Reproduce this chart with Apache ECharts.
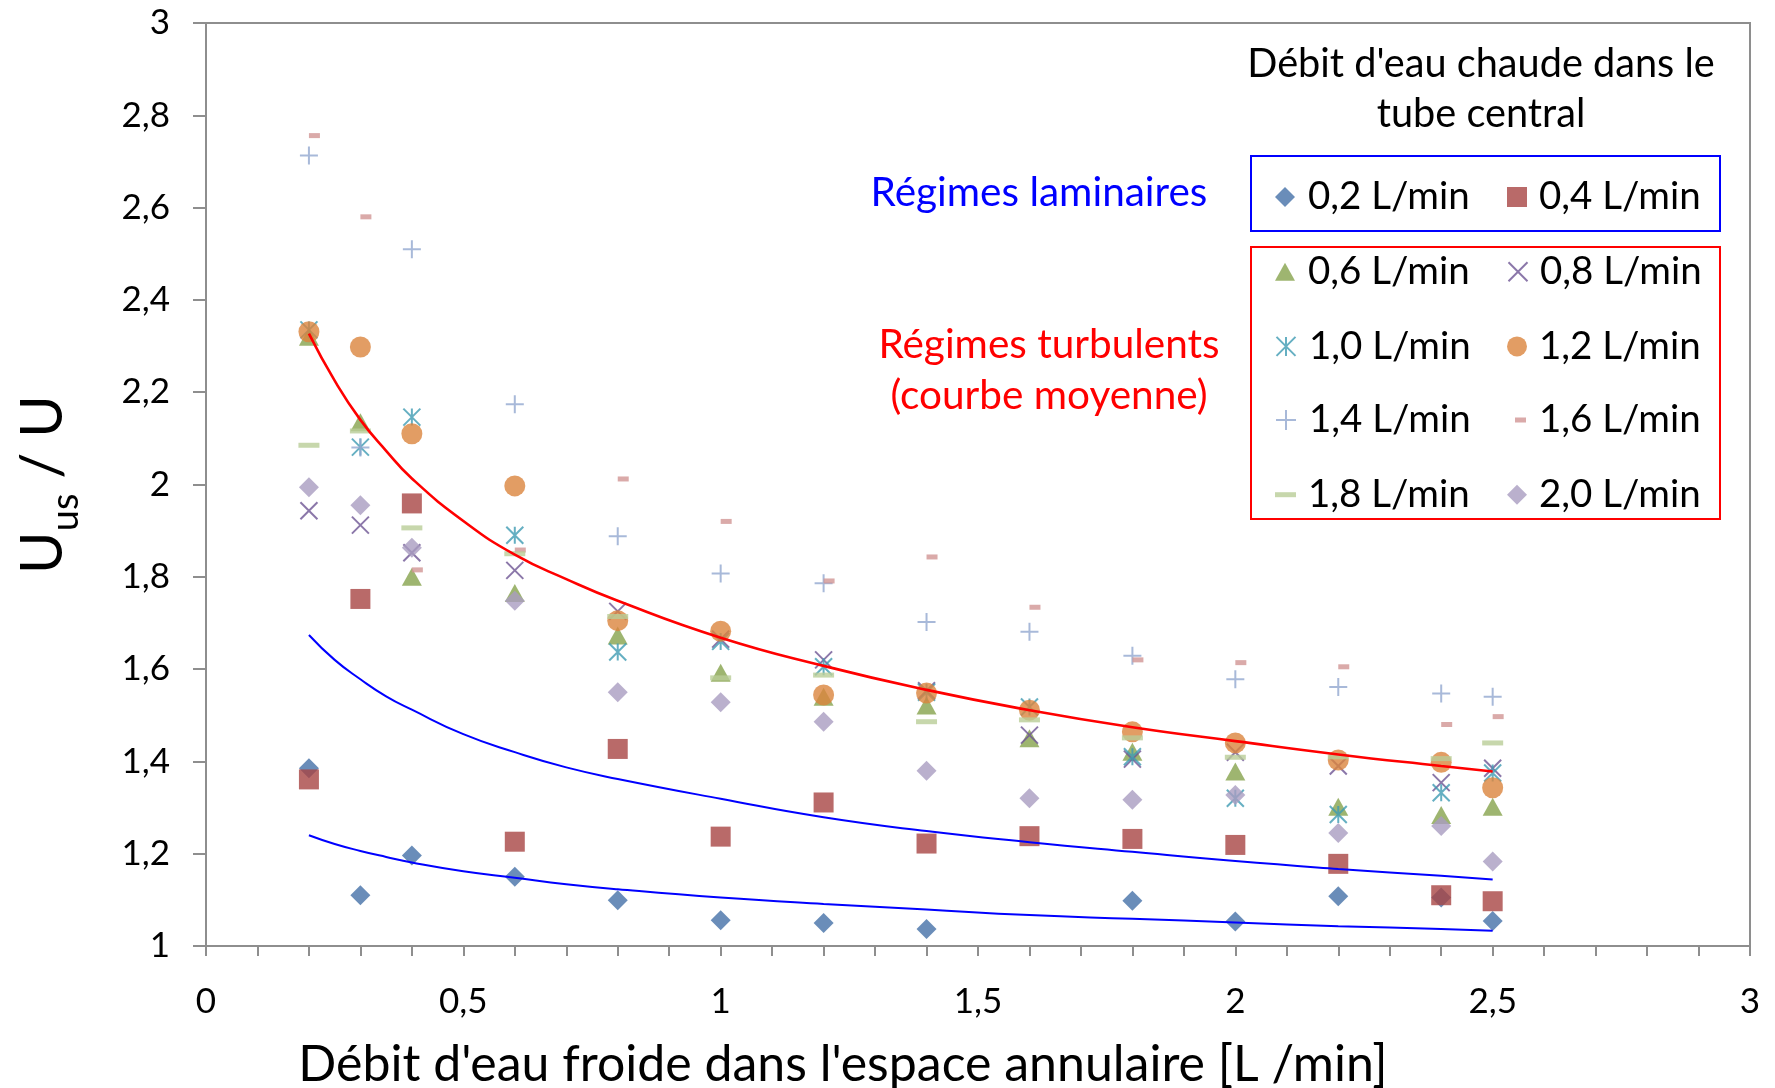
<!DOCTYPE html>
<html><head><meta charset="utf-8">
<script src="https://cdn.jsdelivr.net/npm/echarts@6/dist/echarts.min.js"></script>
<style>html,body{margin:0;padding:0;background:#fff}#c{width:1775px;height:1088px}</style>
</head><body><div id="c"></div>
<script>
// ---- data ----
const xVals = [0.2, 0.3, 0.4, 0.6, 0.8, 1.0, 1.2, 1.4, 1.6, 1.8, 2.0, 2.2, 2.4, 2.5];
const seriesNames = ['0,2 L/min','0,4 L/min','0,6 L/min','0,8 L/min','1,0 L/min','1,2 L/min','1,4 L/min','1,6 L/min','1,8 L/min','2,0 L/min'];
const s02 = [1.385, 1.110, 1.196, 1.150, 1.099, 1.056, 1.050, 1.037, null, 1.098, 1.053, 1.108, 1.105, 1.054];
const s04 = [1.361, 1.752, 1.959, 1.226, 1.427, 1.237, 1.311, 1.222, 1.238, 1.232, 1.219, 1.178, 1.110, 1.097];
const s06 = [2.320, 2.135, 1.800, 1.765, 1.673, 1.592, 1.540, 1.521, 1.450, 1.421, 1.378, 1.302, 1.284, 1.302];
const s08 = [1.943, 1.912, 1.852, 1.814, 1.725, 1.665, 1.620, 1.553, 1.457, 1.405, 1.420, 1.390, 1.354, 1.385];
const s10 = [2.335, 2.081, 2.146, 1.890, 1.637, 1.660, 1.605, 1.550, 1.518, 1.410, 1.320, 1.285, 1.332, 1.375];
const s12 = [2.331, 2.298, 2.110, 1.997, 1.705, 1.682, 1.544, 1.548, 1.511, 1.464, 1.440, 1.403, 1.398, 1.343];
const s14 = [2.713, 2.080, 2.510, 2.174, 1.888, 1.807, 1.786, 1.702, 1.681, 1.629, 1.578, 1.561, 1.547, 1.540];
const s16 = [2.756, 2.580, 1.815, 1.858, 2.012, 1.920, 1.791, 1.843, 1.734, 1.620, 1.614, 1.605, 1.480, 1.497];
const s18 = [2.085, 2.116, 1.906, 1.850, 1.714, 1.581, 1.587, 1.486, 1.490, 1.451, 1.409, 1.410, 1.406, 1.440];
const s20 = [1.994, 1.955, 1.863, 1.748, 1.550, 1.528, 1.486, 1.380, 1.320, 1.317, 1.327, 1.245, 1.260, 1.183];

// trend curves
const trendX    = [0.2, 0.25, 0.3, 0.35, 0.4, 0.5, 0.6, 0.7, 0.8, 1.0, 1.2, 1.4, 1.6, 1.8, 2.0, 2.2, 2.4, 2.5];
const redY      = [2.327, 2.225, 2.140, 2.073, 2.013, 1.921, 1.848, 1.795, 1.748, 1.668, 1.607, 1.555, 1.511, 1.474, 1.444, 1.415, 1.390, 1.378];
const blueUpY   = [1.674, 1.620, 1.578, 1.541, 1.512, 1.459, 1.420, 1.387, 1.362, 1.319, 1.279, 1.249, 1.225, 1.204, 1.184, 1.167, 1.152, 1.144];
const blueLowY  = [1.240, 1.221, 1.206, 1.193, 1.181, 1.162, 1.148, 1.134, 1.123, 1.105, 1.091, 1.079, 1.067, 1.059, 1.051, 1.043, 1.037, 1.033];

const xTicks = [0, 0.5, 1, 1.5, 2, 2.5, 3];
const yTicks = [1, 1.2, 1.4, 1.6, 1.8, 2, 2.2, 2.4, 2.6, 2.8, 3];

// ---- styling ----
const FONT = 'Lato';
const AX = '#8E8E8E';
const fmt = v => String(Math.round(v * 10) / 10).replace('.', ',');
const P_X = 'path://M0,0 L10,10 M10,0 L0,10';
const P_AST = 'path://M0,0 L10,10 M10,0 L0,10 M5,0 L5,10';
const P_PLUS = 'path://M5,0 L5,10 M0,5 L10,5';

const styles = [
  {symbol:'diamond', size:20, color:'#4571A8'},
  {symbol:'rect', size:20, color:'#A84543'},
  {symbol:'triangle', size:[20,18], color:'#86A24C'},
  {symbol:P_X, size:17, color:'#6E5593', stroke:true},
  {symbol:P_AST, size:17, color:'#3E9BB3', stroke:true},
  {symbol:'circle', size:21, color:'#DB843D'},
  {symbol:P_PLUS, size:18, color:'#92A8CF', stroke:true},
  {symbol:'rect', size:[11,5], color:'#D19594', offset:[5.5,0]},
  {symbol:'rect', size:[21,5], color:'#B9CD97'},
  {symbol:'diamond', size:20, color:'#A99CC0'}
];
const allVals = [s02, s04, s06, s08, s10, s12, s14, s16, s18, s20];

const series = allVals.map((vals, i) => {
  const st = styles[i];
  return {
    type: 'scatter', name: seriesNames[i],
    data: xVals.map((x, j) => vals[j] == null ? null : [x, vals[j]]).filter(d => d),
    symbol: st.symbol, symbolSize: st.size, symbolOffset: st.offset || [0,0],
    itemStyle: st.stroke ? {color:'transparent', borderColor: st.color, borderWidth: 2} : {color: st.color},
    emphasis: {disabled: true}, z: 2
  };
});
const trend = (ys, color, width) => ({
  type: 'line', data: trendX.map((x, j) => [x, ys[j]]), symbol: 'none', smooth: 0.5,
  lineStyle: {color, width}, silent: true, z: 4
});
series.push(trend(redY, '#FF0000', 2.6), trend(blueUpY, '#0000FF', 2), trend(blueLowY, '#0000FF', 2));

// legend items, one legend per item
const rowY = [197, 271.7, 346.4, 420, 494.7];
const legends = seriesNames.map((name, i) => {
  const st = styles[i];
  const col = i % 2, row = Math.floor(i / 2);
  let w = 20, h = 20, icon = st.symbol;
  if (i === 2) { h = 18; }
  if (i === 3 || i === 4) { w = 19; h = 19; }
  if (i === 7) { w = 11; h = 5; }
  if (i === 8) { w = 21; h = 5; }
  let left = col === 0 ? 1285 - w / 2 : 1517 - w / 2;
  if (i === 7) left = 1515;
  if (i === 8) left = 1275;
  const textLeft = col === 0 ? 1308 : 1539;
  return {
    data: [{name, icon, itemStyle: st.stroke ? {color:'transparent', borderColor: st.color, borderWidth: 2} : {color: st.color, borderWidth: 0}}],
    left, top: rowY[row] - 20, itemWidth: w, itemHeight: h, padding: 0, selectedMode: false,
    textStyle: {fontFamily: FONT, fontSize: 38.5, color: '#000', lineHeight: 40, padding: [0, 0, 0, textLeft - (left + w + 5)]}
  };
});

const option = {
  animation: false,
  backgroundColor: '#fff',
  grid: {left: 206, right: 25, top: 23, bottom: 142, show: true, borderColor: AX, borderWidth: 2},
  xAxis: {
    type: 'value', min: xTicks[0], max: xTicks[xTicks.length - 1], interval: 0.5,
    axisLine: {lineStyle: {color: AX, width: 2}},
    axisTick: {show: true, length: 10, lineStyle: {color: AX, width: 2}},
    minorTick: {show: true, splitNumber: 5, length: 10, lineStyle: {color: AX, width: 2}},
    splitLine: {show: false},
    axisLabel: {formatter: fmt, fontFamily: FONT, fontSize: 35, color: '#000', margin: 38}
  },
  yAxis: {
    type: 'value', min: yTicks[0], max: yTicks[yTicks.length - 1], interval: 0.2,
    axisLine: {show: true, lineStyle: {color: AX, width: 2}},
    axisTick: {show: true, length: 13, lineStyle: {color: AX, width: 2}},
    splitLine: {show: false},
    axisLabel: {formatter: fmt, fontFamily: FONT, fontSize: 35, color: '#000', margin: 36},
    name: '{a|U}{b|us}{a| / U}', nameLocation: 'middle', nameRotate: 90, nameGap: 121,
    nameTextStyle: {color: '#000', fontFamily: FONT, rich: {
      a: {fontSize: 58, lineHeight: 84, fontFamily: FONT, color: '#000'},
      b: {fontSize: 38, lineHeight: 38, verticalAlign: 'bottom', fontFamily: FONT, color: '#000'}
    }}
  },
  legend: legends,
  graphic: [
    {type: 'text', x: 843, y: 1065, style: {text: "Débit d'eau froide dans l'espace annulaire [L /min]", fill: '#000', fontFamily: FONT, fontSize: 50, align: 'center', verticalAlign: 'middle'}},
    {type: 'text', x: 1039, y: 193, style: {text: 'Régimes laminaires', fill: '#0000FF', fontFamily: FONT, fontSize: 40.5, align: 'center', verticalAlign: 'middle'}},
    {type: 'text', x: 1049, y: 370, style: {text: 'Régimes turbulents\n(courbe moyenne)', fill: '#FF0000', fontFamily: FONT, fontSize: 40.5, lineHeight: 51, align: 'center', verticalAlign: 'middle'}},
    {type: 'text', x: 1481, y: 89, style: {text: "Débit d'eau chaude dans le\ntube central", fill: '#000', fontFamily: FONT, fontSize: 39.7, lineHeight: 49.5, align: 'center', verticalAlign: 'middle'}},
    {type: 'rect', shape: {x: 1251, y: 156, width: 469, height: 75}, style: {fill: 'none', stroke: '#0000FF', lineWidth: 2}},
    {type: 'rect', shape: {x: 1251, y: 247, width: 469, height: 272}, style: {fill: 'none', stroke: '#FF0000', lineWidth: 2}}
  ],
  series
};
echarts.init(document.getElementById('c'), null, {renderer: 'canvas'}).setOption(option);
</script></body></html>
